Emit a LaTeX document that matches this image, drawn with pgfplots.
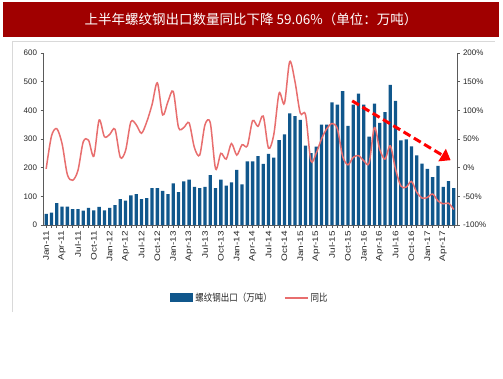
\documentclass[border=0pt]{standalone}
\usepackage{graphicx}
\usepackage{pgfplots}
\usepackage{pgfplotstable}
\pgfplotsset{compat=1.18}
\usepackage{fontspec}
\setmainfont{Liberation Sans}
\newfontfamily\cjk{Noto Sans CJK SC}
\usetikzlibrary{arrows.meta}
\definecolor{barblue}{RGB}{16,87,140}
\definecolor{linered}{RGB}{232,110,110}
\definecolor{titlered}{RGB}{160,0,0}
\definecolor{framegray}{RGB}{217,217,217}
\definecolor{axgray}{RGB}{90,90,90}

\pgfplotstableread{
x y
0 39
1 43
2 76
3 64
4 64
5 55
6 55
7 50
8 60
9 51
10 63
11 51
12 60
13 69
14 90
15 85
16 103
17 108
18 90
19 94
20 129
21 129
22 119
23 108
24 145
25 115
26 152
27 158
28 133
29 129
30 133
31 174
32 129
33 158
34 137
35 149
36 192
37 142
38 222
39 222
40 240
41 213
42 248
43 235
44 296
45 316
46 389
47 380
48 367
49 277
50 251
51 273
52 350
53 350
54 428
55 420
56 467
57 346
58 420
59 458
60 420
61 308
62 423
63 356
64 394
65 489
66 433
67 295
68 299
69 274
70 243
71 214
72 196
73 167
74 206
75 133
76 153
77 129
}\bars

\pgfplotstableread{
x y
0 -2
1 55
2 68
3 42
4 -12
5 -22
6 -5
7 45
8 48
9 20
10 83
11 54
12 58
13 67
14 18
15 30
16 80
17 75
18 60
19 80
20 110
21 148
22 92
23 115
24 133
25 70
26 70
27 78
28 35
29 22
30 75
31 78
32 -2
33 25
34 15
35 42
36 22
37 40
38 38
39 82
40 72
41 90
42 34
43 58
44 130
45 112
46 185
47 150
48 95
49 92
50 12
51 25
52 50
53 68
54 77
55 68
56 20
57 5
58 18
59 21
60 12
61 8
62 70
63 32
64 15
65 38
66 -3
67 -32
68 -34
69 -24
70 -43
71 -53
72 -52
73 -46
74 -58
75 -63
76 -62
77 -73
}\yoy

\begin{document}
\begin{tikzpicture}
\fill[white] (0pt,0pt) rectangle (503pt,378pt);
\path[use as bounding box] (0pt,0pt) rectangle (503pt,378pt);
\fill[titlered] (3pt,341pt) rectangle (499pt,376pt);
\node[text=white, font=\cjk\fontsize{13.5}{16}\selectfont] at (251pt,358.5pt) {上半年螺纹钢出口数量同比下降 59.06\%（单位：万吨）};
\draw[framegray, line width=0.8pt] (12pt,66pt) -- (12pt,337pt) -- (495pt,337pt);

\begin{axis}[
  at={(43pt,153pt)}, anchor=south west, scale only axis,
  width=414pt, height=172pt,
  xmin=-0.6, xmax=77.6, ymin=0, ymax=600,
  axis x line*=bottom, axis y line*=left,
  axis line style={axgray, line width=0.8pt, -},
  ytick={0,100,...,600},
  yticklabels={0,100,200,300,400,500,600},
  xtick={0,3,...,75},
  minor xtick={0,...,77},
  xticklabels={Jan-11,Apr-11,Jul-11,Oct-11,Jan-12,Apr-12,Jul-12,Oct-12,Jan-13,Apr-13,Jul-13,Oct-13,Jan-14,Apr-14,Jul-14,Oct-14,Jan-15,Apr-15,Jul-15,Oct-15,Jan-16,Apr-16,Jul-16,Oct-16,Jan-17,Apr-17},
  tick align=outside, major tick length=2.5pt, minor tick length=2.5pt,
  tick style={axgray, line width=0.6pt},
  /pgf/number format/assume math mode=true,
  yticklabel style={font=\fontsize{8}{9}\selectfont, text=black!85},
  xticklabel style={font=\fontsize{10}{10}\selectfont, text=black!85, rotate=90, anchor=east, yscale=0.8},
  legend style={at={(0.5,-0.424)}, anchor=center, draw=none, fill=none,
    legend columns=2, font=\fontsize{10}{12}\selectfont, text=black!85,
    /tikz/every even column/.append style={column sep=10pt}},
]
\addplot[ybar, fill=barblue, draw=none, bar width=3.3pt,
  legend image code/.code={\fill[barblue] (0pt,-4.5pt) rectangle (23pt,4.5pt);}] table {\bars};
\addlegendentry{\scalebox{0.85}[1]{\cjk 螺纹钢出口（万吨）}}
\addlegendimage{legend image code/.code={\draw[linered, line width=1.5pt] (0pt,0pt) -- (23pt,0pt);}}
\addlegendentry{\scalebox{0.85}[1]{\cjk 同比}}
\end{axis}

\begin{axis}[
  at={(43pt,153pt)}, anchor=south west, scale only axis,
  width=414pt, height=172pt,
  xmin=-0.6, xmax=77.6, ymin=-100, ymax=200,
  axis x line=none, axis y line*=right,
  axis line style={axgray, line width=0.8pt, -},
  ytick={-100,-50,...,200},
  yticklabels={-100\%,-50\%,0\%,50\%,100\%,150\%,200\%},
  tick align=outside, major tick length=2.5pt,
  tick style={axgray, line width=0.6pt},
  /pgf/number format/assume math mode=true,
  yticklabel style={font=\fontsize{8}{9}\selectfont, text=black!85},
]
\addplot[linered, line width=1.5pt, smooth, no markers] table {\yoy};
\draw[red, line width=3pt, dash pattern=on 8pt off 4pt, -{Triangle[length=10pt,width=14pt]}]
  (axis cs:57.8,116.5) -- (axis cs:76.4,13);
\end{axis}
\end{tikzpicture}
\end{document}
